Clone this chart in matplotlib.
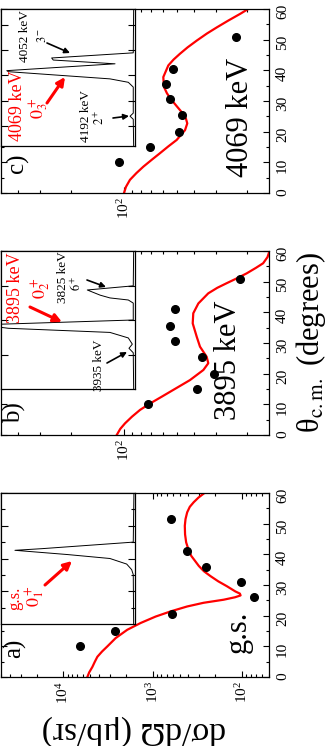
import numpy as np
import matplotlib
matplotlib.use('Agg')
import matplotlib.pyplot as plt
from matplotlib.ticker import MultipleLocator, NullFormatter

# angular distributions (theta in degrees, cross section in mub/sr)
a_theta = [10, 15, 20.5, 26, 31, 36, 41, 51.5]
a_xs = [6530, 2650, 617, 74, 104, 253, 418, 630]
b_theta = [10, 15, 20, 25.5, 30.5, 35.5, 41, 51]
b_xs = [73, 38.6, 31, 36, 51, 55, 51, 22]
c_theta = [10, 15, 20, 25.5, 30.5, 35.5, 40.5, 51]
c_xs = [107, 71, 48.7, 47, 55, 58, 53, 23]

# calculations (red curves)
a_cth = [0, 1.5, 3.3, 5, 6.6, 8.3, 10, 12.7, 15.4, 17.6, 19.7, 21.4, 23, 24.2,
         25.2, 26.0, 26.6, 27.2, 27.9, 29.6, 31.2, 32.9, 34.5, 36.2, 39.5, 41.7,
         43.9, 46.5, 49.3, 51.5, 53.7, 55.5, 57, 58.5, 60]
a_cv = [5400, 5150, 4740, 4450, 4170, 3700, 3220, 2600, 1930, 1370, 931, 630,
        412, 270, 161, 120, 104, 106, 119, 148, 185, 226, 268, 305, 371, 400,
        423, 435, 438, 430, 412, 385, 348, 308, 264]
b_cth = [0, 2, 3.8, 6, 8.2, 10.3, 12.5, 14.7, 17.9, 21.2, 23.4, 25.5, 28.8, 32,
         36.4, 39.7, 42.9, 46.2, 48, 49.5, 51, 52.7, 54.5, 56, 58, 59.5]
b_cv = [110, 105, 98.7, 90, 81, 71, 61, 52.5, 42.2, 35.4, 33.2, 33.9, 37, 38.6,
        40.7, 40.4, 37.8, 33.2, 29.5, 26.1, 23, 20.1, 17.8, 16.2, 15.3, 15]
c_cth = [0, 2, 4.3, 6.5, 8.6, 11, 13, 15.2, 17.3, 20.5, 22.7, 24.3, 26, 28.2,
         30.3, 32.5, 34.6, 37.8, 41.6, 43.5, 45.4, 47.5, 49.7, 52, 54, 56.2,
         58.4, 60]
c_cv = [100, 97.5, 92.5, 85, 77.6, 69, 62.4, 56, 50.2, 45, 43.7, 44.5, 46.4,
        50, 53.6, 57, 59.3, 59.8, 56, 52.3, 48.1, 43.5, 38.6, 33.8, 29.7, 25.6,
        21.9, 19.7]

# inset spectra (channel, counts)
a_ch = [0, 15.1, 16.6, 18.3, 20.0, 21.2, 22.5, 23.0, 25.0, 40]
a_ct = [1, 1.3, 2.5, 6.2, 18.7, 50.2, 89.6, 69.6, 1.3, 0.8]
b_ch = [0, 10.5, 11.8, 13, 14.8, 16.4, 17.1, 17.6, 18.6, 20.0, 24.9, 25.8, 26.4,
        27.2, 28.7, 29.9, 40]
b_ct = [1, 1.3, 4.5, 2, 5, 18.7, 63, 94.5, 115, 1.3, 1.3, 5, 18.7, 26, 35.6, 1.3, 1]
c_ch = [0, 7.8, 8.7, 9.6, 17.2, 18.6, 19.6, 21.7, 22.0, 24.0, 25.1, 25.7, 27.2, 40]
c_ct = [1, 1.3, 3.7, 1.3, 1.3, 5, 18.7, 94.5, 95.7, 14.9, 61, 62.2, 1.3, 1]

plt.rcParams['font.family'] = 'serif'
plt.rcParams['font.serif'] = ['Liberation Serif', 'DejaVu Serif']
plt.rcParams['mathtext.fontset'] = 'stix'
plt.rcParams['axes.linewidth'] = 0.9

W, H = 332, 746
fig = plt.figure(figsize=(W / 100, H / 100), dpi=100)


def fx(x):
    return x / W


def fy(y):
    return 1 - y / H


def panel(top, xlim, th, xs, cth, cv):
    ax = fig.add_axes([fx(1), fy(top + 184), 268 / W, 184 / H])
    ax.set_xscale('log')
    ax.set_xlim(xlim)
    ax.set_ylim(0, 60)
    ax.plot(cv, cth, color='red', lw=1.6, zorder=2)
    ax.plot(xs, th, 'o', color='black', ms=5.5, zorder=3)
    ax.yaxis.set_major_locator(MultipleLocator(10))
    ax.yaxis.set_minor_locator(MultipleLocator(5))
    ax.xaxis.set_minor_formatter(NullFormatter())
    ax.tick_params(which='both', direction='in', top=True, bottom=True,
                   left=True, right=True, labelleft=False, labelright=True,
                   width=0.8)
    ax.tick_params(which='major', length=4.5)
    ax.tick_params(which='minor', length=2.3)
    ax.tick_params(axis='y', labelrotation=90, labelsize=11, pad=5)
    ax.tick_params(axis='x', labelrotation=90, labelsize=11, pad=3)
    return ax


def inset(top, bottom, ch, ct, major, minor):
    ax = fig.add_axes([fx(1), fy(bottom), 134 / W, (bottom - top) / H])
    ax.plot(ct, ch, color='black', lw=0.7)
    ax.set_xlim(100, 0)
    ax.set_ylim(0, 40)
    ax.set_xticks([])
    ax.set_yticks(major)
    ax.set_yticks(minor, minor=True)
    ax.tick_params(axis='y', which='both', direction='in', left=True,
                   right=True, labelleft=False, width=0.8)
    ax.tick_params(axis='y', which='major', length=5)
    ax.tick_params(axis='y', which='minor', length=3)
    return ax


def arrow(ax, tail, head, color, lw, ms):
    ax.annotate('', xy=(head[0], H - head[1]), xycoords='figure pixels',
                xytext=(tail[0], H - tail[1]), textcoords='figure pixels',
                arrowprops=dict(arrowstyle='-|>', color=color, lw=lw,
                                mutation_scale=ms, shrinkA=0, shrinkB=0))


def label(x, y, s, size, color='black', rot=90):
    fig.text(fx(x), fy(y), s, fontsize=size, color=color, rotation=rot,
             ha='center', va='center')


ax_a = panel(493, (5e4, 50), a_theta, a_xs, a_cth, a_cv)
ax_b = panel(251, (500, 15), b_theta, b_xs, b_cth, b_cv)
ax_c = panel(9, (500, 15), c_theta, c_xs, c_cth, c_cv)

in_a = inset(493, 624, a_ch, a_ct, [10, 20, 30], [5, 15, 25, 35])
in_b = inset(251, 389, b_ch, b_ct, [10, 20, 30], [])
in_c = inset(9, 146, c_ch, c_ct, [5.8, 13.2, 20.6, 28.0, 35.4], [])

# panel a texts
label(15, 648, 'a)', 18)
label(238, 632, 'g.s.', 22)
label(15, 598, 'g.s.', 12, 'red')
label(35, 596, r'$0^+_1$', 13, 'red')
arrow(in_a, (45, 585), (72, 561), 'red', 2.2, 12)

# panel b texts
label(15, 413, 'b)', 18)
label(229, 360, '3895 keV', 22)
label(15, 288, '3895 keV', 13, 'red')
label(41, 288, r'$0^+_2$', 13, 'red')
arrow(in_b, (30, 307), (62, 322), 'red', 2.2, 12)
label(63, 277, '3825 keV', 9.5)
label(77, 283, r'$6^+$', 9)
arrow(in_b, (87, 280), (106, 287), 'black', 1.2, 8)
label(99, 365, '3935 keV', 9.5)
arrow(in_b, (107, 363), (127, 352), 'black', 1.2, 8)

# panel c texts
label(17, 163, 'c)', 18)
label(240, 117, '4069 keV', 22)
label(17, 106, '4069 keV', 13, 'red')
label(39, 108, r'$0^+_3$', 13, 'red')
arrow(in_c, (47, 103), (65, 77), 'red', 2.2, 12)
label(25, 36, '4052 keV', 9.5)
label(42, 35, r'$3^-$', 9)
arrow(in_c, (47, 43), (70, 53), 'black', 1.2, 8)
label(86, 116, '4192 keV', 9.5)
label(100, 117, r'$2^+$', 9)
arrow(in_c, (113, 118), (129, 116), 'black', 1.2, 8)

# axis titles
label(311, 342, r'θ$_{\rm c.m.}$ (degrees)', 22)
label(134, 731, 'dσ/dΩ (μb/sr)', 24, rot=180)

fig.savefig('out.png', dpi=100)
